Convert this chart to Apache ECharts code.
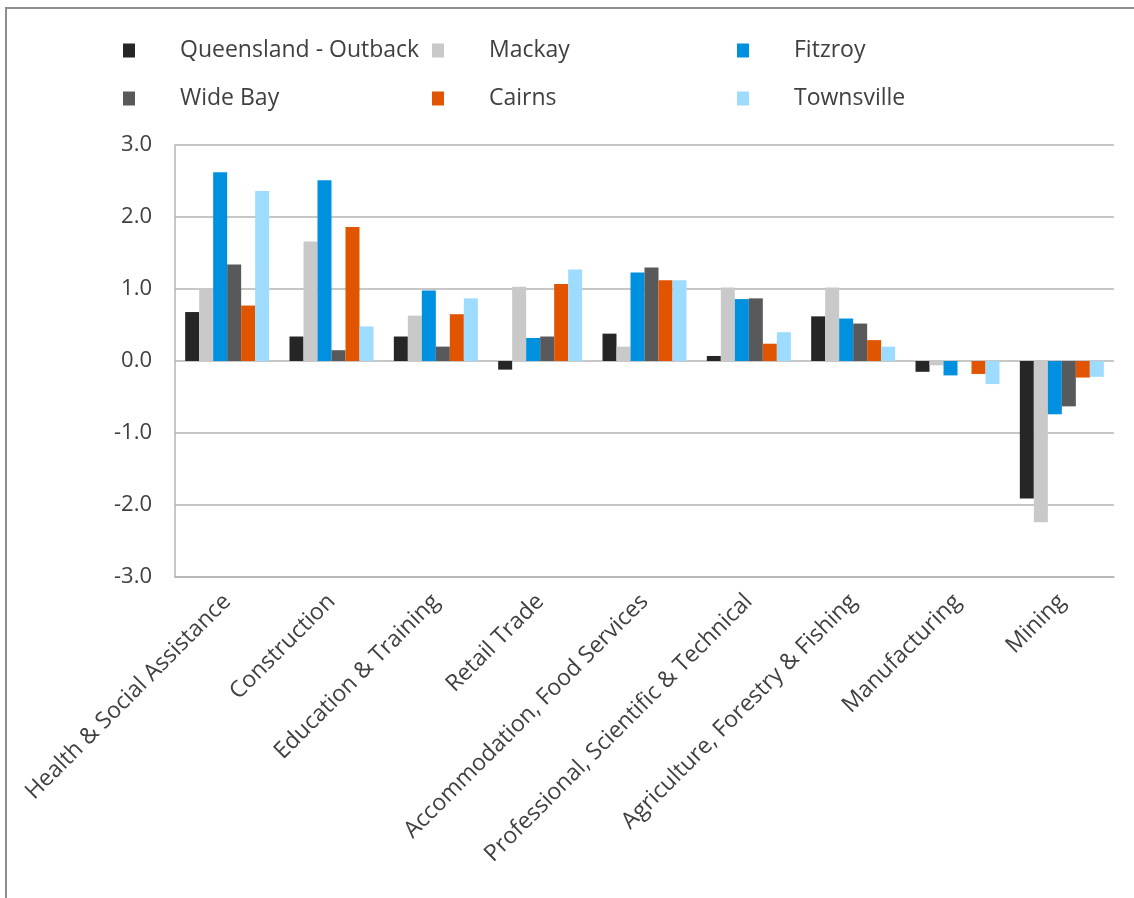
<!DOCTYPE html>
<html>
<head>
<meta charset="utf-8">
<script src="https://cdn.jsdelivr.net/npm/echarts@6/dist/echarts.min.js"></script>
<style>
  html, body { margin: 0; padding: 0; background: #fff; }
  #frame {
    position: absolute; left: 5px; top: 7px; right: -10px; bottom: -10px;
    border-top: 2px solid #8e8e8e; border-left: 2px solid #8e8e8e;
  }
  #chart { position: absolute; left: 0; top: 0; width: 1134px; height: 898px; }
</style>
</head>
<body>
<div id="frame"></div>
<div id="chart"></div>
<script>
// 行业类别
const categories = [
  'Health & Social Assistance', 'Construction', 'Education & Training', 'Retail Trade',
  'Accommodation, Food Services', 'Professional, Scientific & Technical',
  'Agriculture, Forestry & Fishing', 'Manufacturing', 'Mining'
];

// 各地区数值
const outback    = [0.68, 0.34, 0.34, -0.12, 0.38, 0.07, 0.62, -0.15, -1.91];
const mackay     = [1.00, 1.66, 0.63, 1.03, 0.20, 1.02, 1.02, -0.06, -2.24];
const fitzroy    = [2.62, 2.51, 0.98, 0.32, 1.23, 0.86, 0.59, -0.20, -0.74];
const wideBay    = [1.34, 0.15, 0.20, 0.34, 1.30, 0.87, 0.52, 0.00, -0.63];
const cairns     = [0.77, 1.86, 0.65, 1.07, 1.12, 0.24, 0.29, -0.18, -0.23];
const townsville = [2.36, 0.48, 0.87, 1.27, 1.12, 0.40, 0.20, -0.32, -0.22];

const seriesNames = ['Queensland - Outback', 'Mackay', 'Fitzroy', 'Wide Bay', 'Cairns', 'Townsville'];
const seriesData = [outback, mackay, fitzroy, wideBay, cairns, townsville];
const colors = ['#262626', '#c9c9c9', '#0090e0', '#58595b', '#e15500', '#9ddbff'];

const FONT = 'Open Sans';
const TEXT_COLOR = '#404040';
const GRID_COLOR = '#b4b4b4';

// 图例位置（两行三列）
const legendPos = [
  { left: 123, top: 39 }, { left: 432, top: 39 }, { left: 737, top: 39 },
  { left: 123, top: 87 }, { left: 432, top: 87 }, { left: 737, top: 87 }
];

const chart = echarts.init(document.getElementById('chart'));

const option = {
  animation: false,
  color: colors,
  legend: seriesNames.map((name, i) => ({
    data: [name],
    left: legendPos[i].left,
    top: legendPos[i].top,
    padding: 0,
    itemWidth: 12,
    itemHeight: 14,
    icon: 'rect',
    selectedMode: false,
    textStyle: {
      fontFamily: FONT,
      fontSize: 23,
      color: TEXT_COLOR,
      padding: [0, 0, 0, 40]
    }
  })),
  grid: {
    left: 175,
    right: 20,
    top: 145,
    bottom: 321,
    containLabel: false
  },
  xAxis: {
    type: 'category',
    data: categories,
    axisLine: { onZero: false, lineStyle: { color: GRID_COLOR, width: 1.5 } },
    axisTick: { show: false },
    axisLabel: {
      rotate: 45,
      interval: 0,
      margin: 21,
      fontFamily: FONT,
      fontSize: 23,
      color: TEXT_COLOR
    }
  },
  yAxis: {
    type: 'value',
    min: -3,
    max: 3,
    interval: 1,
    axisLine: { show: true, lineStyle: { color: GRID_COLOR, width: 1.5 } },
    axisTick: { show: false },
    splitLine: { lineStyle: { color: GRID_COLOR, width: 1.5 } },
    axisLabel: {
      margin: 23,
      fontFamily: FONT,
      fontSize: 22,
      color: TEXT_COLOR,
      padding: [3, 0, 0, 0],
      formatter: (v) => v.toFixed(1)
    }
  },
  series: seriesNames.map((name, i) => ({
    name: name,
    type: 'bar',
    data: seriesData[i],
    barWidth: 14,
    barGap: '0%',
    itemStyle: { color: colors[i] }
  }))
};

chart.setOption(option);
</script>
</body>
</html>
